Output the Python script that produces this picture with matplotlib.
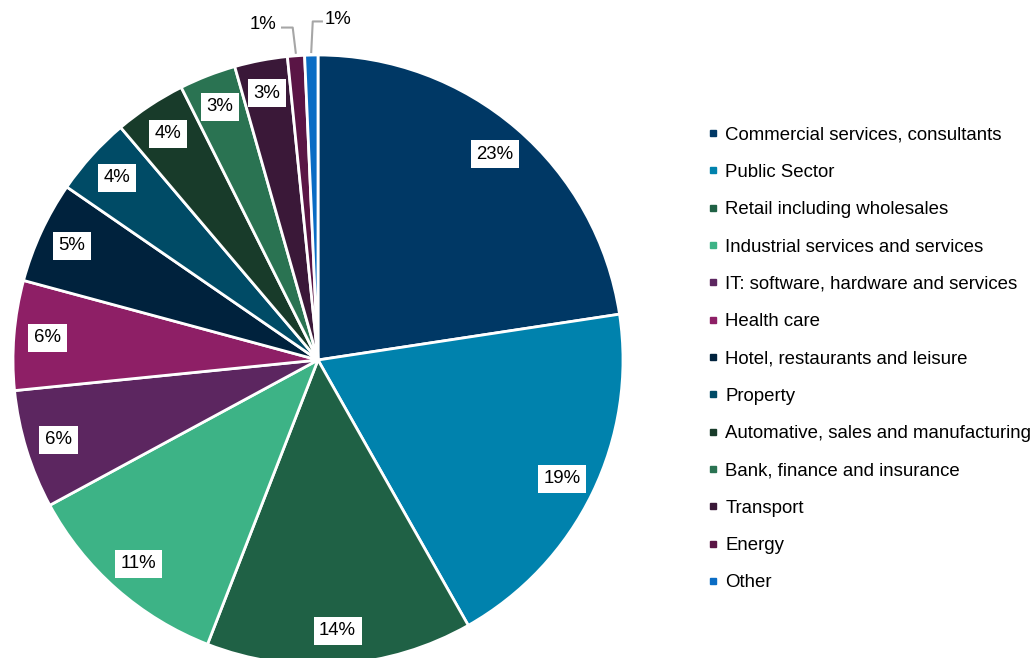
import numpy as np
import matplotlib
matplotlib.use('Agg')
import matplotlib.pyplot as plt

plt.rcParams['font.family'] = ['Liberation Sans', 'DejaVu Sans']

categories = ["Commercial services, consultants", "Public Sector", "Retail including wholesales",
              "Industrial services and services", "IT: software, hardware and services", "Health care",
              "Hotel, restaurants and leisure", "Property", "Automative, sales and manufacturing",
              "Bank, finance and insurance", "Transport", "Energy", "Other"]
shares = [22.6, 19.2, 14.1, 11.2, 6.3, 5.8, 5.4, 4.2, 3.8, 3.0, 2.8, 0.9, 0.7]
colors = ['#003865', '#0082ad', '#1f6145', '#3db386', '#5c2660', '#8e1f66', '#00223d',
          '#004b66', '#183b2a', '#2a7352', '#3a1838', '#5a1545', '#0a6cc4']

W, H = 1031, 658
fig = plt.figure(figsize=(W/100, H/100), dpi=100)
cx, cy, r = 318, 298, 305
ax = fig.add_axes([(cx-r)/W, (cy-r)/H, 2*r/W, 2*r/H])

wedges, _ = ax.pie(shares, colors=colors, startangle=90, counterclock=False,
                   radius=1.0, wedgeprops=dict(edgecolor='white', linewidth=2))
ax.set_xlim(-1, 1)
ax.set_ylim(-1, 1)
ax.set_aspect('equal')
ax.axis('off')

fs = 13.4
for w, v in zip(wedges, shares):
    ang = np.deg2rad((w.theta1 + w.theta2) / 2)
    txt = "%d%%" % round(v)
    if v >= 2:
        ax.text(0.89*np.cos(ang), 0.89*np.sin(ang), txt, ha='center', va='center', fontsize=fs,
                bbox=dict(boxstyle='square,pad=0.3', fc='white', ec='none'))

# leader lines for the two small slices
e, o = wedges[11], wedges[12]
ae = np.deg2rad((e.theta1 + e.theta2) / 2)
ao = np.deg2rad((o.theta1 + o.theta2) / 2)
xe, ye = 1.01*np.cos(ae), 1.01*np.sin(ae)
xo, yo = 1.01*np.cos(ao), 1.01*np.sin(ao)
ax.plot([xe, xe-0.01, xe-0.045], [ye, 1.09, 1.09], color='#a6a6a6', lw=1.5, clip_on=False)
ax.text(xe-0.065, 1.10, "1%", ha='right', va='center', fontsize=fs)
ax.plot([xo, xo+0.005, xo+0.035], [yo, 1.11, 1.11], color='#a6a6a6', lw=1.5, clip_on=False)
ax.text(xo+0.045, 1.115, "1%", ha='left', va='center', fontsize=fs)

handles = [plt.Line2D([], [], marker='s', ls='none', color=c, markersize=5) for c in colors]
fig.legend(handles, categories, loc='center left', bbox_to_anchor=(700/W, 1-359/H),
           frameon=False, fontsize=fs, labelspacing=1.09, handlelength=0.6,
           handletextpad=0.35, borderaxespad=0)

plt.savefig('out.png', dpi=100)
plt.close()
